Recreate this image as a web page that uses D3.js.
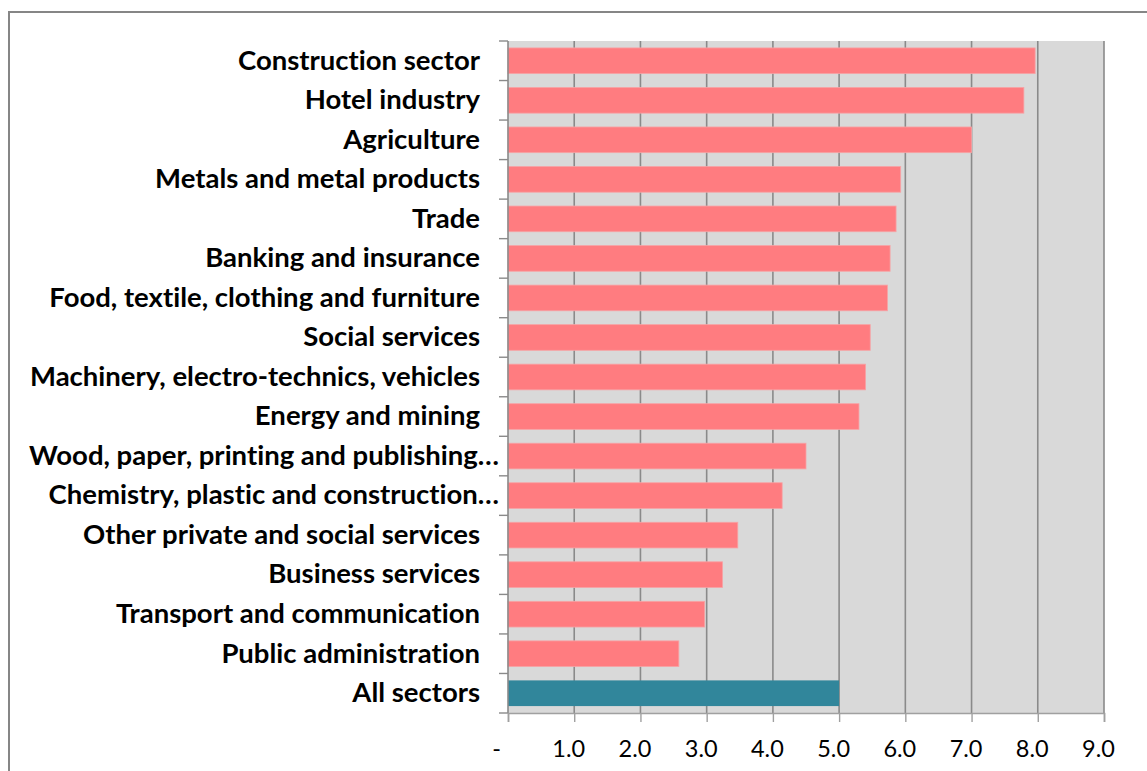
<!DOCTYPE html>
<html>
<head>
<meta charset="utf-8">
<script src="https://cdn.jsdelivr.net/npm/d3@7"></script>
<style>
  html, body { margin: 0; padding: 0; background: #fff; }
  svg { display: block; }
  text { font-variant-ligatures: none; }
</style>
</head>
<body>
<svg id="chart" width="1147" height="771"></svg>
<script>
// Sectors, top to bottom
const sectors = [
  "Construction sector",
  "Hotel industry",
  "Agriculture",
  "Metals and metal products",
  "Trade",
  "Banking and insurance",
  "Food, textile, clothing and furniture",
  "Social services",
  "Machinery, electro-technics, vehicles",
  "Energy and mining",
  "Wood, paper, printing and publishing…",
  "Chemistry, plastic and construction…",
  "Other private and social services",
  "Business services",
  "Transport and communication",
  "Public administration",
  "All sectors"
];

const values = [7.96, 7.79, 7.0, 5.93, 5.86, 5.77, 5.73, 5.47, 5.40, 5.30, 4.50, 4.14, 3.47, 3.24, 2.97, 2.58, 5.0];

const tickValues = [0, 1, 2, 3, 4, 5, 6, 7, 8, 9];
const tickLabels = ["-", "1.0", "2.0", "3.0", "4.0", "5.0", "6.0", "7.0", "8.0", "9.0"];

const totalLabel = "All sectors";

const svg = d3.select("#chart");
const W = 1147, H = 771;
const plot = { left: 508, right: 1104, top: 41, bottom: 713 };

// Outer chart frame (runs past the right and bottom edges)
svg.append("rect")
  .attr("x", 9).attr("y", 12)
  .attr("width", W + 20).attr("height", H + 20)
  .attr("fill", "#fff")
  .attr("stroke", "#868686")
  .attr("stroke-width", 2);

const x = d3.scaleLinear().domain([0, 9]).range([plot.left, plot.right]);
const y = d3.scaleBand().domain(sectors).range([plot.top, plot.bottom])
  .paddingInner(0.35).paddingOuter(0.175);

// Plot background
svg.append("rect")
  .attr("x", plot.left).attr("y", plot.top)
  .attr("width", plot.right - plot.left).attr("height", plot.bottom - plot.top)
  .attr("fill", "#d9d9d9");

// Vertical gridlines
svg.append("g")
  .selectAll("line")
  .data(tickValues.filter(d => d > 0))
  .join("line")
  .attr("x1", d => x(d)).attr("x2", d => x(d))
  .attr("y1", plot.top).attr("y2", plot.bottom)
  .attr("stroke", "#8a8a8a")
  .attr("stroke-width", 1.6);

// Bars
svg.append("g")
  .selectAll("rect")
  .data(sectors.map((s, i) => ({ s, v: values[i] })))
  .join("rect")
  .attr("x", x(0))
  .attr("y", d => y(d.s))
  .attr("width", d => x(d.v) - x(0))
  .attr("height", y.bandwidth())
  .attr("fill", d => d.s === totalLabel ? "#31869b" : "#ff7c80")
  .attr("stroke", d => d.s === totalLabel ? "none" : "#f7a3a5")
  .attr("stroke-width", 0.8);

// Category axis on the left: ticks sit on band boundaries
const yAxisG = svg.append("g");
yAxisG.append("line")
  .attr("x1", plot.left).attr("x2", plot.left)
  .attr("y1", plot.top).attr("y2", plot.bottom)
  .attr("stroke", "#8a8a8a").attr("stroke-width", 1.6);
const bounds = d3.range(sectors.length + 1).map(i => plot.top + i * y.step());
yAxisG.selectAll("line.tk")
  .data(bounds)
  .join("line")
  .attr("class", "tk")
  .attr("x1", plot.left - 9).attr("x2", plot.left)
  .attr("y1", d => d).attr("y2", d => d)
  .attr("stroke", "#8a8a8a").attr("stroke-width", 1.4);

yAxisG.selectAll("text")
  .data(sectors)
  .join("text")
  .attr("x", d => d.endsWith("…") ? plot.left - 9 : plot.left - 28)
  .attr("y", d => y(d) + y.bandwidth() / 2)
  .attr("dy", "0.32em")
  .attr("text-anchor", "end")
  .attr("font-family", "Lato, 'Open Sans', sans-serif")
  .attr("font-weight", "bold")
  .attr("font-size", 27.5)
  .attr("fill", "#000")
  .text(d => d);

// Value axis along the bottom
const xAxis = d3.axisBottom(x)
  .tickValues(tickValues)
  .tickSize(9)
  .tickFormat((d, i) => tickLabels[i]);
const xAxisG = svg.append("g")
  .attr("transform", `translate(0,${plot.bottom})`)
  .call(xAxis);
xAxisG.select(".domain").attr("stroke", "#a0a0a0").attr("stroke-width", 1.6);
xAxisG.selectAll(".tick line").attr("stroke", "#a0a0a0").attr("stroke-width", 1.4);
xAxisG.selectAll(".tick text")
  .attr("font-family", "Lato, 'Open Sans', sans-serif")
  .attr("font-size", 23.5)
  .attr("fill", "#000")
  .attr("y", 36)
  .attr("dy", "0.36em")
  .attr("dx", (d, i) => i === 0 ? -12 : -6);
</script>
</body>
</html>
